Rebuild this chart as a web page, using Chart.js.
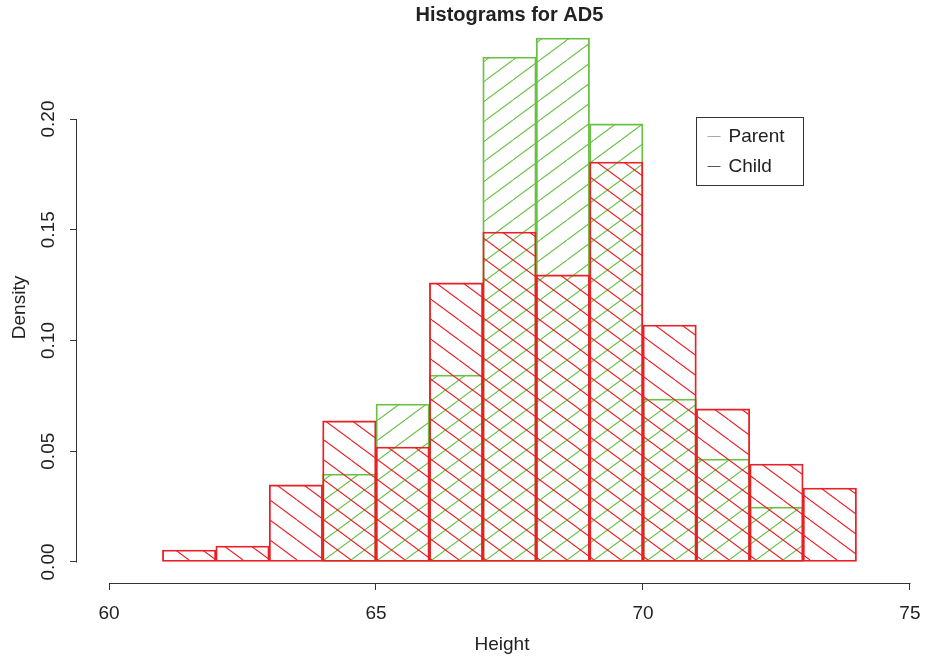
<!DOCTYPE html>
<html>
<head>
<meta charset="utf-8">
<title>Histograms for AD5</title>
<script src="https://cdn.jsdelivr.net/npm/chart.js@4.4.1/dist/chart.umd.min.js"></script>
<style>
  html, body { margin: 0; padding: 0; background: #fff; }
  #chart { display: block; }
</style>
</head>
<body>
<canvas id="chart" width="927" height="656"></canvas>
<script>
// histogram bins: lower edge of each bin (inches), bin width 1
const binWidth = 1;
const childBreaks = [61, 62, 63, 64, 65, 66, 67, 68, 69, 70, 71, 72, 73];
const childDensity = [0.0054, 0.0072, 0.0348, 0.0637, 0.0519, 0.126, 0.149, 0.1296, 0.1806, 0.107, 0.0691, 0.0442, 0.0334];
const parentBreaks = [64, 65, 66, 67, 68, 69, 70, 71, 72];
const parentDensity = [0.0397, 0.0713, 0.0844, 0.228, 0.2366, 0.1978, 0.0736, 0.0465, 0.0248];
const xTicks = [60, 65, 70, 75];
const yTicks = [0, 0.05, 0.10, 0.15, 0.20];
const seriesNames = ['Parent', 'Child'];
const chartTitle = 'Histograms for AD5';

const FONT = "'Liberation Sans', Arial, Helvetica, sans-serif";
const GREEN = 'rgb(106,192,68)';
const RED = 'rgb(236,30,38)';

// diagonal hatch fill like R's density/angle shading
function hatch(color, dir) {
    const w = 27, h = 20;
    const c = document.createElement('canvas');
    c.width = w;
    c.height = h;
    const g = c.getContext('2d');
    g.strokeStyle = color;
    g.lineWidth = 1.1;
    g.beginPath();
    for (let k = -1; k <= 1; k++) {
        if (dir === 'up') {
            g.moveTo(k * w, h);
            g.lineTo((k + 1) * w, 0);
        } else {
            g.moveTo(k * w, 0);
            g.lineTo((k + 1) * w, h);
        }
    }
    g.stroke();
    return g.createPattern(c, 'repeat');
}

function toPoints(breaks, values) {
    return breaks.map((b, i) => ({ x: b + binWidth / 2, y: values[i] }));
}

// R style axis lines: only from first to last tick
const rAxes = {
    id: 'rAxes',
    afterDraw(chart) {
        const { ctx, chartArea, scales: { x, y } } = chart;
        ctx.save();
        ctx.strokeStyle = '#333';
        ctx.lineWidth = 1;
        ctx.beginPath();
        const by = Math.round(chartArea.bottom) + 0.5;
        ctx.moveTo(Math.round(x.getPixelForValue(xTicks[0])) + 0.5, by);
        ctx.lineTo(Math.round(x.getPixelForValue(xTicks[xTicks.length - 1])) + 0.5, by);
        const lx = Math.round(chartArea.left) - 0.5;
        ctx.moveTo(lx, Math.round(y.getPixelForValue(yTicks[0])) + 0.5);
        ctx.lineTo(lx, Math.round(y.getPixelForValue(yTicks[yTicks.length - 1])) + 0.5);
        ctx.stroke();
        ctx.restore();
    }
};

// main title centred over the R plot region (which runs past the canvas edge)
const rTitle = {
    id: 'rTitle',
    afterDraw(chart, args, opts) {
        const { ctx, scales: { x } } = chart;
        const cx = (x.getPixelForValue(opts.span[0]) + x.getPixelForValue(opts.span[1])) / 2;
        ctx.save();
        ctx.font = 'bold 20px ' + FONT;
        ctx.fillStyle = '#222';
        ctx.textAlign = 'center';
        ctx.textBaseline = 'middle';
        ctx.fillText(chartTitle, cx, 15);
        ctx.restore();
    }
};

// boxed legend placed at data coords, like legend(71, 0.2, ...)
const rLegend = {
    id: 'rLegend',
    afterDraw(chart, args, opts) {
        const { ctx, scales: { x, y } } = chart;
        const left = Math.round(x.getPixelForValue(opts.at[0])) + 0.5;
        const top = Math.round(y.getPixelForValue(opts.at[1])) + 0.5;
        const w = 107, h = 68;
        ctx.save();
        ctx.strokeStyle = '#333';
        ctx.lineWidth = 1;
        ctx.strokeRect(left, top, w, h);
        ctx.font = '19px ' + FONT;
        ctx.textBaseline = 'middle';
        ctx.textAlign = 'left';
        seriesNames.forEach((name, i) => {
            const cy = top + 18 + i * 30;
            ctx.strokeStyle = opts.lineColors[i];
            ctx.beginPath();
            ctx.moveTo(left + 11, Math.round(cy) + 0.5);
            ctx.lineTo(left + 24, Math.round(cy) + 0.5);
            ctx.stroke();
            ctx.fillStyle = '#222';
            ctx.fillText(name, left + 32, cy + 1);
        });
        ctx.restore();
    }
};

new Chart(document.getElementById('chart'), {
    type: 'bar',
    data: {
        datasets: [
            {
                label: seriesNames[0],
                data: toPoints(parentBreaks, parentDensity),
                backgroundColor: hatch(GREEN, 'up'),
                borderColor: GREEN,
                borderWidth: 1.2,
                borderSkipped: false,
                order: 2
            },
            {
                label: seriesNames[1],
                data: toPoints(childBreaks, childDensity),
                backgroundColor: hatch(RED, 'down'),
                borderColor: RED,
                borderWidth: 1.2,
                borderSkipped: false,
                order: 1
            }
        ]
    },
    options: {
        responsive: false,
        animation: false,
        layout: { padding: { left: 0, right: 0, top: 32, bottom: 0 } },
        datasets: {
            bar: { grouped: false, barPercentage: 1, categoryPercentage: 1 }
        },
        plugins: {
            legend: { display: false },
            tooltip: { enabled: false },
            title: { display: false },
            rTitle: { span: [59.4, 75.6] },
            rLegend: { at: [71, 0.201], lineColors: ['#aaa', '#555'] }
        },
        scales: {
            x: {
                type: 'linear',
                offset: false,
                min: 59.4,
                max: 75.32,
                afterBuildTicks: s => { s.ticks = xTicks.map(v => ({ value: v })); },
                afterFit: s => {
                    s.height = 73;
                    s.paddingLeft = 0;
                    s.paddingRight = 0;
                },
                border: { display: false },
                grid: { offset: false, drawOnChartArea: false, drawTicks: true, tickLength: 7, color: '#333' },
                ticks: {
                    color: '#222',
                    padding: 12,
                    maxRotation: 0,
                    font: { family: FONT, size: 19 },
                    callback: v => String(v)
                },
                title: {
                    display: true,
                    text: 'Height',
                    color: '#222',
                    font: { family: FONT, size: 19 },
                    padding: { top: 0, bottom: 0 }
                }
            },
            y: {
                min: -0.0095,
                max: 0.2393,
                afterBuildTicks: s => { s.ticks = yTicks.map(v => ({ value: v })); },
                afterFit: s => {
                    s.width = 77;
                    s.paddingTop = 0;
                    s.paddingBottom = 0;
                },
                border: { display: false },
                grid: { drawOnChartArea: false, drawTicks: true, tickLength: 7, color: '#333' },
                ticks: {
                    color: '#222',
                    padding: 3,
                    minRotation: 90,
                    maxRotation: 90,
                    crossAlign: 'center',
                    font: { family: FONT, size: 19 },
                    callback: v => v.toFixed(2)
                },
                title: {
                    display: true,
                    text: 'Density',
                    color: '#222',
                    font: { family: FONT, size: 19 },
                    padding: { top: 8, bottom: 0 }
                }
            }
        }
    },
    plugins: [rAxes, rTitle, rLegend]
});
</script>
</body>
</html>
